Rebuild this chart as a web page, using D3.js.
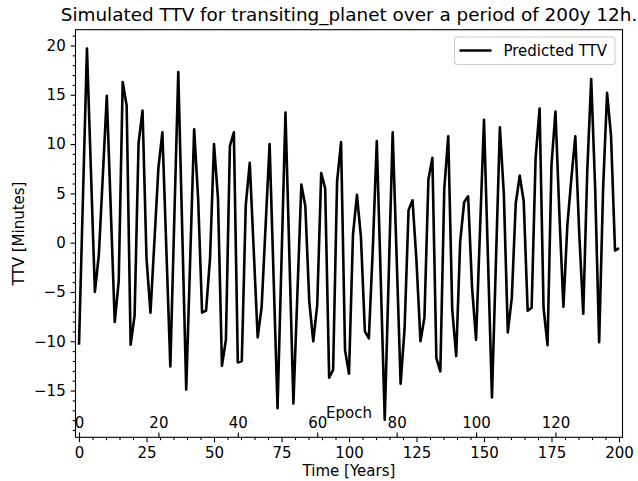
<!DOCTYPE html>
<html>
<head>
<meta charset="utf-8">
<script src="https://cdn.jsdelivr.net/npm/d3@7"></script>
<style>
  body { margin: 0; background: #ffffff; }
  svg text { font-family: "DejaVu Sans", sans-serif; fill: #000; }
</style>
</head>
<body>
<svg id="chart" width="638" height="481"></svg>
<script>
// Predicted transit timing variation per epoch, in minutes
const ttv = [
  -10.35, 4.7, 19.7, 7.3, -5.0, -1.2, 6.8, 14.9, 3.4, -8.05,
  -3.9, 16.3, 13.9, -10.35, -7.4, 10.1, 13.4, -1.6, -7.1, 0.2,
  7.6, 11.2, -0.7, -12.55, 2.4, 17.3, 1.2, -14.9, -1.7, 11.5,
  4.5, -7.1, -6.9, -1.6, 10.0, 4.5, -12.5, -9.85, 9.8, 11.2,
  -12.15, -12.0, 3.8, 8.1, -0.75, -9.6, -6.5, 1.75, 10.0, -3.4,
  -16.8, -1.8, 13.2, -1.55, -16.3, -5.2, 5.9, 3.7, -6.0, -10.0,
  -6.3, 7.05, 5.5, -13.7, -12.9, 6.2, 10.2, -10.9, -13.3, 0.8,
  4.85, 0.6, -9.0, -9.7, -0.55, 10.3, -3.8, -17.95, -3.4, 11.2,
  -1.5, -14.3, -8.7, 3.3, 4.3, -1.9, -10.0, -7.6, 6.4, 8.6,
  -11.7, -13.05, 5.5, 10.8, -6.8, -11.5, 0.1, 4.1, 4.7, -4.6,
  -9.85, 1.3, 12.45, -1.6, -15.7, -2.0, 11.7, 4.9, -9.1, -5.6,
  4.0, 6.8, 4.2, -6.9, -6.6, 8.6, 13.6, -6.6, -10.4, 7.9,
  13.3, 2.8, -6.5, 1.8, 6.5, 10.8, 0.8, -7.2, 7.2, 16.6,
  5.5, -10.1, 5.5, 15.2, 10.8, -0.8, -0.55
];

// Simulated span: 200 years and 12 hours
const spanYears = 200 + 12 / (24 * 365.25);

const timeTicks = [0, 25, 50, 75, 100, 125, 150, 175, 200];
const epochTicks = [0, 20, 40, 60, 80, 100, 120];
const ttvTicks = [-15, -10, -5, 0, 5, 10, 15, 20];

const titleText = "Simulated TTV for transiting_planet over a period of 200y 12h.";
const xLabel = "Time [Years]";
const yLabel = "TTV [Minutes]";
const epochLabel = "Epoch";
const legendLabel = "Predicted TTV";

// ---- layout ----
const W = 638, H = 481;
const plot = { left: 75.5, right: 622.5, top: 29.7, bottom: 437.3 };
const fontTick = 15, fontTitle = 18.4;
const majorLen = 4.9, minorLen = 2.8, pad = 4.9;

const svg = d3.select("#chart");
svg.append("rect").attr("width", W).attr("height", H).attr("fill", "#fff");

const lastEpoch = ttv.length - 1;
const yearsPerEpoch = spanYears / lastEpoch;

const x = d3.scaleLinear().domain([-1.3, 201.3]).range([plot.left, plot.right]);
const y = d3.scaleLinear().domain([-19.74, 21.6]).range([plot.bottom, plot.top]);
// Epoch axis shares the time axis through the orbital period
const xEpoch = d3.scaleLinear()
  .domain(x.domain().map(t => t / yearsPerEpoch))
  .range(x.range());

const points = ttv.map((v, i) => ({ epoch: i, time: i * yearsPerEpoch, ttv: v }));

// ---- data line ----
const line = d3.line().x(d => x(d.time)).y(d => y(d.ttv));
svg.append("path")
  .datum(points)
  .attr("d", line)
  .attr("fill", "none")
  .attr("stroke", "#000")
  .attr("stroke-width", 2.6)
  .attr("stroke-linejoin", "round")
  .attr("stroke-linecap", "butt");

// ---- axes ----
function styleAxis(g) {
  g.select(".domain").remove();
  g.selectAll(".tick line").attr("stroke", "#000").attr("stroke-width", 1.1);
  g.selectAll(".tick text").attr("font-size", fontTick).attr("font-family", "DejaVu Sans, sans-serif").attr("fill", "#000");
}

// y axis: minor then major
const yMinor = d3.range(-19, 22, 1).filter(v => v % 5 !== 0);
svg.append("g")
  .attr("transform", `translate(${plot.left},0)`)
  .call(d3.axisLeft(y).tickValues(yMinor).tickSize(minorLen).tickFormat(""))
  .call(styleAxis);
svg.append("g")
  .attr("transform", `translate(${plot.left},0)`)
  .call(d3.axisLeft(y).tickValues(ttvTicks).tickSize(majorLen).tickPadding(pad)
    .tickFormat(d => d < 0 ? "\u2212" + Math.abs(d) : String(d)))
  .call(styleAxis);

// time axis (outward ticks below the frame)
const tMinor = d3.range(0, 201, 5).filter(v => v % 25 !== 0);
svg.append("g")
  .attr("transform", `translate(0,${plot.bottom})`)
  .call(d3.axisBottom(x).tickValues(tMinor).tickSize(minorLen).tickFormat(""))
  .call(styleAxis);
svg.append("g")
  .attr("transform", `translate(0,${plot.bottom})`)
  .call(d3.axisBottom(x).tickValues(timeTicks).tickSize(majorLen).tickPadding(pad))
  .call(styleAxis);

// epoch axis (inward ticks, labels inside the frame)
svg.append("g")
  .attr("transform", `translate(0,${plot.bottom})`)
  .call(d3.axisTop(xEpoch).tickValues(epochTicks).tickSize(majorLen).tickPadding(pad))
  .call(styleAxis);

svg.append("text")
  .attr("x", (plot.left + plot.right) / 2)
  .attr("y", 418)
  .attr("text-anchor", "middle")
  .attr("font-size", fontTick)
  .text(epochLabel);

// ---- frame ----
svg.append("rect")
  .attr("x", plot.left).attr("y", plot.top)
  .attr("width", plot.right - plot.left).attr("height", plot.bottom - plot.top)
  .attr("fill", "none").attr("stroke", "#000").attr("stroke-width", 1.1);

// ---- labels ----
svg.append("text")
  .attr("x", (plot.left + plot.right) / 2)
  .attr("y", 21)
  .attr("text-anchor", "middle")
  .attr("font-size", fontTitle)
  .text(titleText);

svg.append("text")
  .attr("x", (plot.left + plot.right) / 2)
  .attr("y", 475.5)
  .attr("text-anchor", "middle")
  .attr("font-size", fontTick)
  .text(xLabel);

// rotated label, kept in its own group with grayscale text smoothing
svg.append("g")
  .attr("opacity", 0.999)
  .append("text")
  .attr("transform", `translate(23.5,${(plot.top + plot.bottom) / 2}) rotate(-90)`)
  .attr("text-anchor", "middle")
  .attr("font-size", fontTick)
  .attr("fill", "#000")
  .text(yLabel);

// ---- legend ----
const legend = svg.append("g");
legend.append("rect")
  .attr("x", 454.5).attr("y", 37).attr("width", 160.5).attr("height", 27.5)
  .attr("rx", 3).attr("ry", 3)
  .attr("fill", "#fff").attr("fill-opacity", 0.8)
  .attr("stroke", "#cccccc").attr("stroke-width", 1.1);
legend.append("line")
  .attr("x1", 459.5).attr("x2", 491.5).attr("y1", 50.5).attr("y2", 50.5)
  .attr("stroke", "#000").attr("stroke-width", 2.6);
legend.append("text")
  .attr("x", 503.5).attr("y", 55.5)
  .attr("font-size", fontTick)
  .text(legendLabel);
</script>
</body>
</html>
